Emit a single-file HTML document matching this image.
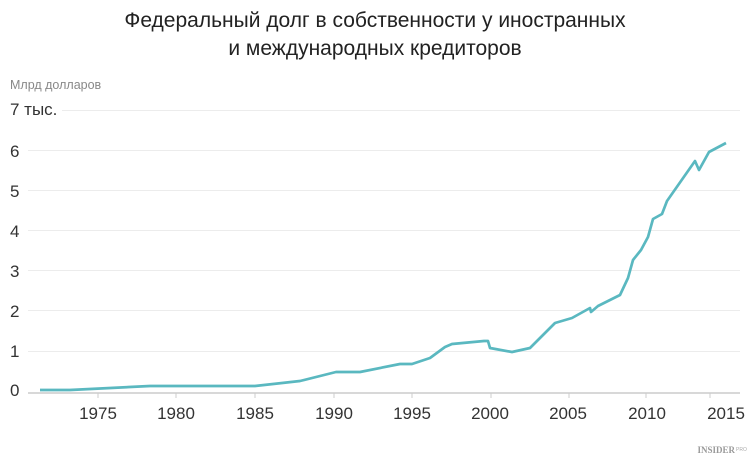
<!DOCTYPE html>
<html><head><meta charset="utf-8"><style>
body{margin:0;background:#fff;}
svg{display:block;font-family:"Liberation Sans","DejaVu Sans",sans-serif;}
</style></head><body>
<svg width="750" height="464" viewBox="0 0 750 464">
<text x="375" y="27" text-anchor="middle" font-size="21" fill="#222">Федеральный долг в собственности у иностранных</text>
<text x="375" y="55" text-anchor="middle" font-size="21" fill="#222">и международных кредиторов</text>
<text x="10" y="89" font-size="12.5" fill="#888">Млрд долларов</text>
<g stroke="#ececec" stroke-width="1">
<line x1="62" y1="110.5" x2="740" y2="110.5"/>
<line x1="28" y1="150.5" x2="740" y2="150.5"/>
<line x1="28" y1="190.5" x2="740" y2="190.5"/>
<line x1="28" y1="230.5" x2="740" y2="230.5"/>
<line x1="28" y1="270.5" x2="740" y2="270.5"/>
<line x1="28" y1="310.5" x2="740" y2="310.5"/>
<line x1="28" y1="351.5" x2="740" y2="351.5"/>
</g>
<line x1="28" y1="393" x2="740" y2="393" stroke="#ccc" stroke-width="1.5"/>
<g stroke="#ccc" stroke-width="1">
<line x1="98" y1="393" x2="98" y2="398"/><line x1="176" y1="393" x2="176" y2="398"/>
<line x1="255" y1="393" x2="255" y2="398"/><line x1="334" y1="393" x2="334" y2="398"/>
<line x1="412" y1="393" x2="412" y2="398"/><line x1="491" y1="393" x2="491" y2="398"/>
<line x1="569" y1="393" x2="569" y2="398"/><line x1="646" y1="393" x2="646" y2="398"/>
<line x1="710" y1="393" x2="710" y2="398"/>
</g>
<g font-size="17" fill="#333">
<text x="10" y="115">7 тыс.</text>
<text x="10" y="157">6</text><text x="10" y="197">5</text><text x="10" y="237">4</text>
<text x="10" y="277">3</text><text x="10" y="317">2</text><text x="10" y="357">1</text>
<text x="10" y="396">0</text>
</g>
<g font-size="17" fill="#333" text-anchor="middle">
<text x="98" y="419">1975</text><text x="176" y="419">1980</text><text x="255" y="419">1985</text>
<text x="334" y="419">1990</text><text x="412" y="419">1995</text><text x="490" y="419">2000</text>
<text x="568" y="419">2005</text><text x="647" y="419">2010</text><text x="726" y="419">2015</text>
</g>
<polyline fill="none" stroke="#5ab8c0" stroke-width="2.7" stroke-linejoin="round" points="40,390 70,390 150,386 255,386 300,381 336,372 360,372 400,364 412,364 430,358 445,347 452,344 484,341 488,341 490,348 512,352 530,348 555,323 572,318 590,308 591,312 598,306 620,295 628,278 633,260 641,250 648,237 653,219 662,214 667,201 695,161 699,170 709,152 726,143"/>
<text x="735" y="453" text-anchor="end" font-size="9" font-family="Liberation Serif,serif" font-weight="bold" fill="#999">INSIDER</text>
<text x="736" y="451" font-size="5" fill="#aaa">PRO</text>
</svg>
</body></html>
